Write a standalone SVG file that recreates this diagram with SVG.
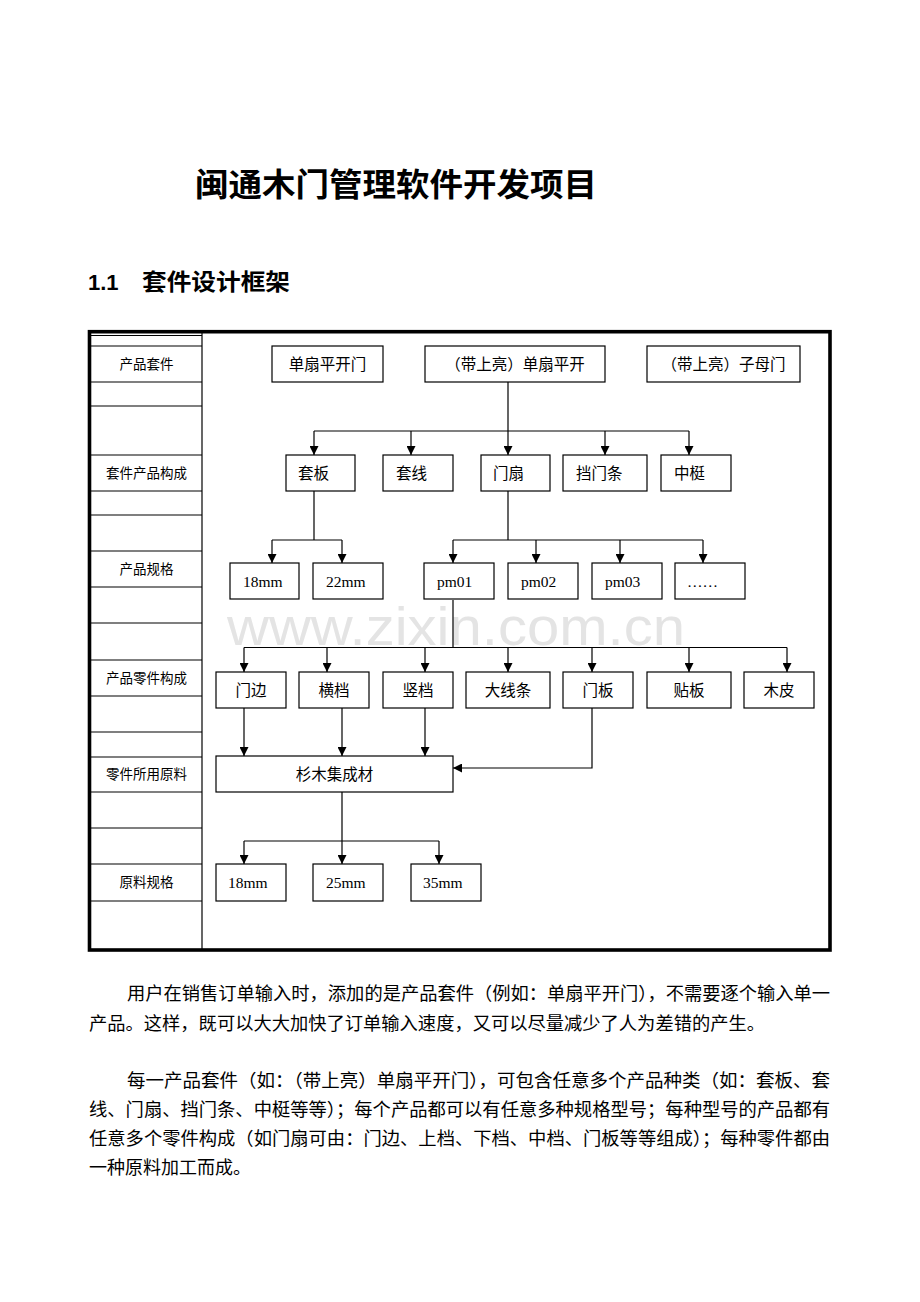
<svg xmlns="http://www.w3.org/2000/svg" width="920" height="1302" viewBox="0 0 920 1302">
<style>
.bx{fill:#fff;stroke:#000;stroke-width:1.2}
.t{font-family:"Liberation Serif","Noto Sans CJK SC",serif;font-size:15.5px;fill:#000}
.c{text-anchor:middle}
.lb{font-family:"Liberation Serif","Noto Sans CJK SC",serif;font-size:13.5px;fill:#000;text-anchor:middle}
.ln{stroke:#000;stroke-width:1.2;fill:none}
.ar{stroke:#000;stroke-width:1.2;fill:none;marker-end:url(#arr)}
.p{font-family:"Liberation Serif","Noto Sans CJK SC",serif;font-size:18px;fill:#000}
</style>
<defs>
<marker id="arr" markerWidth="9" markerHeight="9" refX="9" refY="4.5" orient="auto" markerUnits="userSpaceOnUse"><path d="M0,0 L9,4.5 L0,9 z" fill="#000"/></marker>
</defs>
<rect width="920" height="1302" fill="#fff"/>
<text x="195" y="196" font-family="Noto Sans CJK SC,sans-serif" font-weight="bold" font-size="32" textLength="402" lengthAdjust="spacingAndGlyphs">闽通木门管理软件开发项目</text>
<text x="88" y="290" font-family="Liberation Sans,Arial,sans-serif" font-weight="bold" font-size="22">1.1</text>
<text x="142" y="290" font-family="Noto Sans CJK SC,sans-serif" font-weight="bold" font-size="23" textLength="148" lengthAdjust="spacingAndGlyphs">套件设计框架</text>
<text x="227" y="645" font-family="Liberation Sans,Arial,sans-serif" font-size="54" fill="#e4e4e4" textLength="458" lengthAdjust="spacingAndGlyphs">www.zixin.com.cn</text>
<g id="frame">
<rect x="89.5" y="331.7" width="740.5" height="618.3" fill="none" stroke="#000" stroke-width="3.6"/>
<line x1="202" y1="332" x2="202" y2="950" class="ln"/>
<path class="ln" d="M90,335.5H202M90,346H202M90,382H202M90,406H202M90,455H202M90,491H202M90,515H202M90,551H202M90,587H202M90,623H202M90,660H202M90,696H202M90,732H202M90,757H202M90,792H202M90,828H202M90,864H202M90,901H202"/>
</g>
<g id="labels">
<text class="lb" x="146.5" y="369">产品套件</text>
<text class="lb" x="146.5" y="478">套件产品构成</text>
<text class="lb" x="146.5" y="574">产品规格</text>
<text class="lb" x="146.5" y="683">产品零件构成</text>
<text class="lb" x="146.5" y="779">零件所用原料</text>
<text class="lb" x="146.5" y="887">原料规格</text>
</g>
<g id="connectors">
<path class="ln" d="M508,382V431M314,431H689"/>
<path class="ar" d="M314,431V455"/><path class="ar" d="M411,431V455"/><path class="ar" d="M508,431V455"/><path class="ar" d="M605,431V455"/><path class="ar" d="M689,431V455"/>
<path class="ln" d="M314,491V540M272,540H342"/>
<path class="ar" d="M272,540V563"/><path class="ar" d="M342,540V563"/>
<path class="ln" d="M508,491V540M453,540H703"/>
<path class="ar" d="M453,540V563"/><path class="ar" d="M536,540V563"/><path class="ar" d="M620,540V563"/><path class="ar" d="M703,540V563"/>
<path class="ln" d="M453,600V647.5M244,647.5H787"/>
<path class="ar" d="M244,647.5V672"/><path class="ar" d="M327,647.5V672"/><path class="ar" d="M425,647.5V672"/><path class="ar" d="M508,647.5V672"/><path class="ar" d="M592,647.5V672"/><path class="ar" d="M689,647.5V672"/><path class="ar" d="M787,647.5V672"/>
<path class="ar" d="M244,708V756"/><path class="ar" d="M342,708V756"/><path class="ar" d="M425,708V756"/>
<path class="ar" d="M592,708V768H453"/>
<path class="ln" d="M342,792V841M244,841H439"/>
<path class="ar" d="M244,841V864"/><path class="ar" d="M342,841V864"/><path class="ar" d="M439,841V864"/>
</g>
<g id="n1"><rect class="bx" x="272" y="346" width="111" height="36"/><text class="t c" x="327.5" y="369.5">单扇平开门</text></g>
<g id="n2"><rect class="bx" x="425" y="346" width="180" height="36"/><text class="t c" x="515" y="369.5">（带上亮）单扇平开</text></g>
<g id="n3"><rect class="bx" x="647" y="346" width="153" height="36"/><text class="t c" x="723.5" y="369.5">（带上亮）子母门</text></g>
<g id="n4"><rect class="bx" x="286" y="455" width="69" height="36"/><text class="t" x="298" y="478.5">套板</text></g>
<g id="n5"><rect class="bx" x="383" y="455" width="70" height="36"/><text class="t" x="396" y="478.5">套线</text></g>
<g id="n6"><rect class="bx" x="481" y="455" width="69" height="36"/><text class="t" x="493" y="478.5">门扇</text></g>
<g id="n7"><rect class="bx" x="563" y="455" width="84" height="36"/><text class="t" x="576" y="478.5">挡门条</text></g>
<g id="n8"><rect class="bx" x="661" y="455" width="70" height="36"/><text class="t" x="674" y="478.5">中梃</text></g>
<g id="n9"><rect class="bx" x="230" y="563" width="69" height="36"/><text class="t" x="243" y="587">18mm</text></g>
<g id="n10"><rect class="bx" x="313" y="563" width="70" height="36"/><text class="t" x="326" y="587">22mm</text></g>
<g id="n11"><rect class="bx" x="424" y="563" width="70" height="36"/><text class="t" x="437" y="587">pm01</text></g>
<g id="n12"><rect class="bx" x="508" y="563" width="70" height="36"/><text class="t" x="521" y="587">pm02</text></g>
<g id="n13"><rect class="bx" x="592" y="563" width="70" height="36"/><text class="t" x="605" y="587">pm03</text></g>
<g id="n14"><rect class="bx" x="675" y="563" width="70" height="36"/><text class="t" x="687" y="587">……</text></g>
<g id="n15"><rect class="bx" x="216" y="672" width="70" height="36"/><text class="t c" x="251" y="695.5">门边</text></g>
<g id="n16"><rect class="bx" x="299" y="672" width="70" height="36"/><text class="t c" x="334" y="695.5">横档</text></g>
<g id="n17"><rect class="bx" x="383" y="672" width="70" height="36"/><text class="t c" x="418" y="695.5">竖档</text></g>
<g id="n18"><rect class="bx" x="466" y="672" width="84" height="36"/><text class="t c" x="508" y="695.5">大线条</text></g>
<g id="n19"><rect class="bx" x="563" y="672" width="70" height="36"/><text class="t c" x="598" y="695.5">门板</text></g>
<g id="n20"><rect class="bx" x="647" y="672" width="84" height="36"/><text class="t c" x="689" y="695.5">贴板</text></g>
<g id="n21"><rect class="bx" x="744" y="672" width="70" height="36"/><text class="t c" x="779" y="695.5">木皮</text></g>
<g id="n22"><rect class="bx" x="216" y="756" width="237" height="36"/><text class="t c" x="334.5" y="779.5">杉木集成材</text></g>
<g id="n23"><rect class="bx" x="216" y="864" width="70" height="37"/><text class="t" x="228" y="888">18mm</text></g>
<g id="n24"><rect class="bx" x="313" y="864" width="70" height="37"/><text class="t" x="326" y="888">25mm</text></g>
<g id="n25"><rect class="bx" x="411" y="864" width="70" height="37"/><text class="t" x="423" y="888">35mm</text></g>
<g id="text">
<text class="p" x="127" y="1000" textLength="703" lengthAdjust="spacingAndGlyphs">用户在销售订单输入时，添加的是产品套件（例如：单扇平开门），不需要逐个输入单一</text>
<text class="p" x="89" y="1030" textLength="676" lengthAdjust="spacingAndGlyphs">产品。这样，既可以大大加快了订单输入速度，又可以尽量减少了人为差错的产生。</text>
<text class="p" x="127" y="1087" textLength="703" lengthAdjust="spacingAndGlyphs">每一产品套件（如：（带上亮）单扇平开门），可包含任意多个产品种类（如：套板、套</text>
<text class="p" x="89" y="1116" textLength="741" lengthAdjust="spacingAndGlyphs">线、门扇、挡门条、中梃等等）；每个产品都可以有任意多种规格型号；每种型号的产品都有</text>
<text class="p" x="89" y="1145" textLength="741" lengthAdjust="spacingAndGlyphs">任意多个零件构成（如门扇可由：门边、上档、下档、中档、门板等等组成）；每种零件都由</text>
<text class="p" x="89" y="1174">一种原料加工而成。</text>
</g>
</svg>
